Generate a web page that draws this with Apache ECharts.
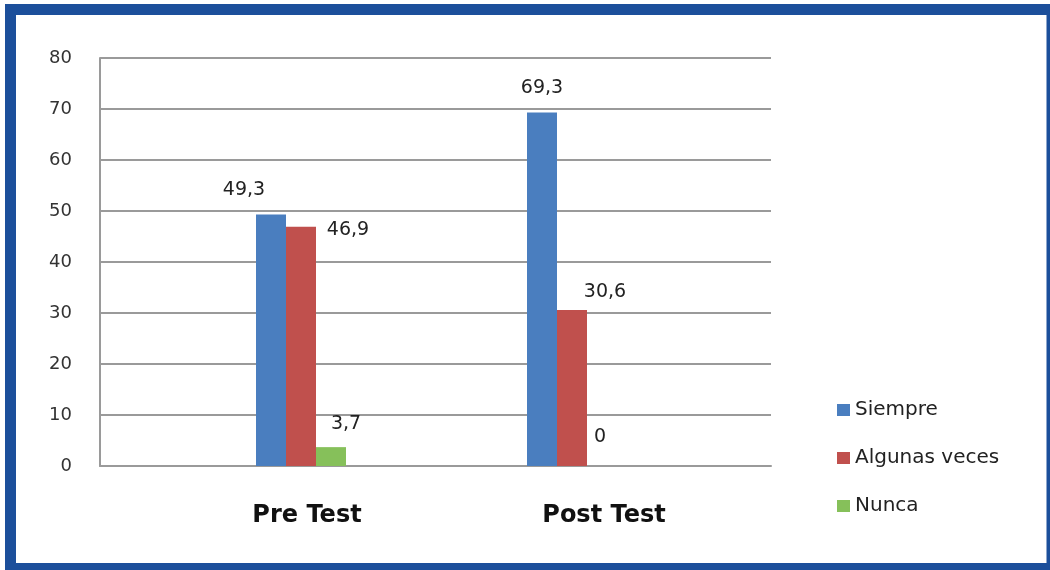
<!DOCTYPE html>
<html>
<head>
<meta charset="utf-8">
<title>Pre Test / Post Test</title>
<script src="https://cdn.jsdelivr.net/npm/echarts@6/dist/echarts.min.js"></script>
<style>
	html, body { margin: 0; padding: 0; background: #fff; }
	#chart { width: 1050px; height: 570px; }
</style>
</head>
<body>
<div id="chart"></div>
<script>
	var categories = ['Pre Test', 'Post Test'];
	var seriesNames = ['Siempre', 'Algunas veces', 'Nunca'];
	var siempreData = [49.3, 69.3];
	var algunasData = [46.9, 30.6];
	var nuncaData = [3.7, 0];
	var yMin = 0, yMax = 80, yStep = 10;

	var colors = ['#4a7ebf', '#c0504d', '#86c05a'];
	// label offsets from the default 'top' spot, one per bar (style only)
	var labelShift = [
		[[-27, -10], [0, -10]],
		[[47, 18], [33, -3]],
		[[15, -9], [-2, -14]]
	];
	// left padding to nudge the category names, like in the original
	var catPad = [12, 64];
	var font = '"DejaVu Sans", Verdana, sans-serif';

	function fmt(v) {
		return String(v).replace('.', ',');
	}

	function makeSeries(idx, values) {
		return {
			name: seriesNames[idx],
			type: 'bar',
			xAxisIndex: 1,
			yAxisIndex: 1,
			barWidth: 30,
			barGap: '0%',
			itemStyle: { color: colors[idx] },
			data: values.map(function (v, i) {
				return {
					value: v,
					label: { offset: labelShift[idx][i] }
				};
			}),
			label: {
				show: true,
				position: 'top',
				distance: 5,
				color: '#222',
				fontFamily: font,
				fontSize: 19,
				formatter: function (p) { return fmt(p.value); }
			}
		};
	}

	var chart = echarts.init(document.getElementById('chart'));
	chart.setOption({
		animation: false,
		backgroundColor: '#fff',
		graphic: [{
			type: 'rect',
			shape: { x: 10.5, y: 9.5, width: 1041.5, height: 559 },
			style: { fill: 'none', stroke: '#1c4f9b', lineWidth: 11 },
			silent: true
		}],
		legend: {
			orient: 'vertical',
			left: 832,
			top: 395,
			itemWidth: 13,
			itemHeight: 12,
			itemGap: 28,
			icon: 'rect',
			data: seriesNames,
			textStyle: {
				color: '#222',
				fontFamily: font,
				fontSize: 20,
				lineHeight: 20
			}
		},
		grid: [
			{ left: 100, right: 279, top: 58, bottom: 104 },
			{ left: 165.5, right: 342.5, top: 58, bottom: 104 }
		],
		xAxis: [{
			gridIndex: 0,
			type: 'category',
			data: categories,
			axisLabel: { show: false },
			axisTick: { show: false },
			axisLine: { lineStyle: { color: '#9a9a9a', width: 2 } }
		}, {
			gridIndex: 1,
			type: 'category',
			data: categories.map(function (c, i) {
				return { value: c, textStyle: { padding: [0, 0, 0, catPad[i]] } };
			}),
			axisTick: { show: false },
			axisLine: { show: false },
			axisLabel: {
				margin: 38,
				color: '#111',
				fontFamily: font,
				fontWeight: 'bold',
				fontSize: 24
			}
		}],
		yAxis: [{
			gridIndex: 0,
			type: 'value',
			min: yMin,
			max: yMax,
			interval: yStep,
			axisLine: { show: true, lineStyle: { color: '#9a9a9a', width: 2 } },
			axisTick: { show: false },
			splitLine: { lineStyle: { color: '#9a9a9a', width: 2 } },
			axisLabel: {
				margin: 28,
				color: '#333',
				fontFamily: font,
				fontSize: 18
			}
		}, {
			gridIndex: 1,
			type: 'value',
			min: yMin,
			max: yMax,
			interval: yStep,
			show: false,
			splitLine: { show: false }
		}],
		series: [
			makeSeries(0, siempreData),
			makeSeries(1, algunasData),
			makeSeries(2, nuncaData)
		]
	});
</script>
</body>
</html>
